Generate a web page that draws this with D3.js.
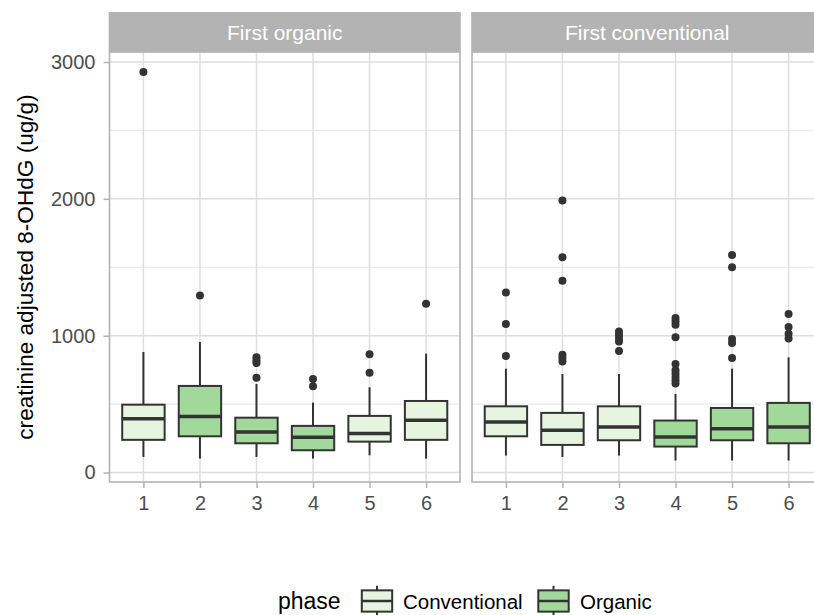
<!DOCTYPE html>
<html>
<head>
<meta charset="utf-8">
<script src="https://cdn.jsdelivr.net/npm/d3@7"></script>
<style>
  html, body { margin: 0; padding: 0; background: #fff; }
  svg { display: block; font-family: "Liberation Sans", Arial, sans-serif; }
</style>
</head>
<body>
<svg id="chart" width="814" height="615"></svg>
<script>
// ---------------- data ----------------
const panels = ["First organic", "First conventional"];
const weeks = ["1", "2", "3", "4", "5", "6"];
const phases = ["Conventional", "Organic"];
const yTicks = [0, 1000, 2000, 3000];
const yMinorTicks = [500, 1500, 2500];

// First organic panel
const phaseFO = ["Conventional", "Organic", "Organic", "Organic", "Conventional", "Conventional"];
const lowFO  = [114, 102, 114, 102, 126, 102];
const q1FO   = [239, 265, 214, 163, 226, 239];
const medFO  = [394, 409, 297, 258, 285, 382];
const q3FO   = [496, 633, 401, 341, 414, 523];
const highFO = [881, 954, 647, 511, 623, 869];
const outFO  = [[2927], [1294], [842, 820, 800, 693], [684, 630], [864, 730], [1234]];

// First conventional panel
const phaseFC = ["Conventional", "Conventional", "Conventional", "Organic", "Organic", "Organic"];
const lowFC  = [124, 114, 124, 88, 88, 88];
const q1FC   = [265, 202, 236, 190, 236, 214];
const medFC  = [370, 309, 333, 260, 321, 333];
const q3FC   = [484, 436, 484, 380, 472, 509];
const highFC = [759, 720, 720, 574, 759, 842];
const outFC  = [[1316, 1085, 852],
                [1988, 1574, 1401, 861, 837, 812],
                [1031, 1007, 983, 958, 888],
                [1129, 1105, 1080, 988, 793, 747, 723, 698, 674, 650],
                [1589, 1501, 976, 946, 837],
                [1158, 1063, 1015, 980]];

const yLabel = "creatinine adjusted 8-OHdG (ug/g)";
const legendTitle = "phase";

// ---------------- layout ----------------
const svg = d3.select("#chart");
const panelTop = 52, panelBottom = 482;
const panelX = [[109.5, 460], [472, 822.5]];
const stripTop = 12;

const fill = d3.scaleOrdinal().domain(phases).range(["#e5f5e0", "#a1d99b"]);
const y = d3.scaleLinear().domain([-69, 3073]).range([panelBottom, panelTop]);

const gridCol = "#dedede", borderCol = "#b3b3b3", boxStroke = "#333333";

const panelData = [
  {phase: phaseFO, low: lowFO, q1: q1FO, med: medFO, q3: q3FO, high: highFO, out: outFO},
  {phase: phaseFC, low: lowFC, q1: q1FC, med: medFC, q3: q3FC, high: highFC, out: outFC}
];

panels.forEach((name, pi) => {
  const [x0, x1] = panelX[pi];
  const x = d3.scalePoint().domain(weeks).range([x0, x1]).padding(0.6);
  const step = x.step();
  const bw = step * 0.75;
  const g = svg.append("g");

  // panel background
  g.append("rect").attr("x", x0).attr("y", panelTop).attr("width", x1 - x0)
    .attr("height", panelBottom - panelTop).attr("fill", "#fff");

  // minor grid
  g.selectAll(".ymin").data(yMinorTicks).join("line")
    .attr("x1", x0).attr("x2", x1).attr("y1", d => y(d)).attr("y2", d => y(d))
    .attr("stroke", gridCol).attr("stroke-width", 0.8);
  // major grid
  g.selectAll(".ymaj").data(yTicks).join("line")
    .attr("x1", x0).attr("x2", x1).attr("y1", d => y(d)).attr("y2", d => y(d))
    .attr("stroke", gridCol).attr("stroke-width", 1.5);
  g.selectAll(".xmaj").data(weeks).join("line")
    .attr("x1", d => x(d)).attr("x2", d => x(d)).attr("y1", panelTop).attr("y2", panelBottom)
    .attr("stroke", gridCol).attr("stroke-width", 1.5);

  const pd = panelData[pi];
  weeks.forEach((w, i) => {
    const cx = x(w);
    // whiskers
    g.append("line").attr("x1", cx).attr("x2", cx).attr("y1", y(pd.high[i])).attr("y2", y(pd.q3[i]))
      .attr("stroke", boxStroke).attr("stroke-width", 2);
    g.append("line").attr("x1", cx).attr("x2", cx).attr("y1", y(pd.q1[i])).attr("y2", y(pd.low[i]))
      .attr("stroke", boxStroke).attr("stroke-width", 2);
    // box
    g.append("rect").attr("x", cx - bw / 2).attr("y", y(pd.q3[i]))
      .attr("width", bw).attr("height", y(pd.q1[i]) - y(pd.q3[i]))
      .attr("fill", fill(pd.phase[i])).attr("stroke", boxStroke).attr("stroke-width", 2);
    // median
    g.append("line").attr("x1", cx - bw / 2).attr("x2", cx + bw / 2)
      .attr("y1", y(pd.med[i])).attr("y2", y(pd.med[i]))
      .attr("stroke", boxStroke).attr("stroke-width", 3.5);
    // outliers
    g.selectAll(null).data(pd.out[i]).join("circle")
      .attr("cx", cx).attr("cy", d => y(d)).attr("r", 4).attr("fill", boxStroke);
  });

  // panel border
  g.append("rect").attr("x", x0).attr("y", panelTop).attr("width", x1 - x0)
    .attr("height", panelBottom - panelTop).attr("fill", "none")
    .attr("stroke", borderCol).attr("stroke-width", 1.6);

  // strip
  g.append("rect").attr("x", x0 - 0.8).attr("y", stripTop).attr("width", x1 - x0 + 1.6)
    .attr("height", panelTop - stripTop).attr("fill", "#b3b3b3");
  g.append("text").attr("x", (x0 + x1) / 2).attr("y", (stripTop + panelTop) / 2)
    .attr("dy", "0.36em").attr("text-anchor", "middle").attr("fill", "#ffffff")
    .attr("font-size", "21px").text(name);

  // x axis
  const xAxis = d3.axisBottom(x).tickSize(6).tickPadding(8);
  const ax = svg.append("g").attr("transform", `translate(0,${panelBottom})`).call(xAxis);
  ax.select(".domain").remove();
  ax.selectAll(".tick line").attr("stroke", borderCol).attr("stroke-width", 1.5);
  ax.selectAll(".tick text").attr("fill", "#4d4d4d").attr("font-size", "20px")
    .attr("font-family", "Liberation Sans, Arial, sans-serif");
});

// y axis
const yAxis = d3.axisLeft(y).tickValues(yTicks).tickSize(6).tickPadding(8).tickFormat(d3.format("d"));
const ay = svg.append("g").attr("transform", `translate(${panelX[0][0]},0)`).call(yAxis);
ay.select(".domain").remove();
ay.selectAll(".tick line").attr("stroke", borderCol).attr("stroke-width", 1.5);
ay.selectAll(".tick text").attr("fill", "#4d4d4d").attr("font-size", "20px")
  .attr("font-family", "Liberation Sans, Arial, sans-serif");

// y label
svg.append("text").attr("transform", `translate(33,${(panelTop + panelBottom) / 2}) rotate(-90)`)
  .attr("text-anchor", "middle").attr("font-size", "22.6px").attr("fill", "#000").text(yLabel);

// legend
const lg = svg.append("g");
lg.append("text").attr("x", 278).attr("y", 609).attr("font-size", "23px").attr("fill", "#000").text(legendTitle);
const keySize = 38;
const keyX = [358, 534.5];
const textX = [403, 580];
const keyY = 582;
phases.forEach((p, i) => {
  const kx = keyX[i];
  const cx = kx + keySize / 2;
  lg.append("line").attr("x1", cx).attr("x2", cx).attr("y1", keyY + keySize * 0.1).attr("y2", keyY + keySize * 0.9)
    .attr("stroke", boxStroke).attr("stroke-width", 2);
  lg.append("rect").attr("x", kx + keySize * 0.1).attr("y", keyY + keySize * 0.22)
    .attr("width", keySize * 0.8).attr("height", keySize * 0.56)
    .attr("fill", fill(p)).attr("stroke", boxStroke).attr("stroke-width", 2);
  lg.append("line").attr("x1", kx + keySize * 0.1).attr("x2", kx + keySize * 0.9)
    .attr("y1", keyY + keySize * 0.5).attr("y2", keyY + keySize * 0.5)
    .attr("stroke", boxStroke).attr("stroke-width", 2.5);
  lg.append("text").attr("x", textX[i]).attr("y", 609).attr("font-size", "20.5px").attr("fill", "#000").text(p);
});
</script>
</body>
</html>
